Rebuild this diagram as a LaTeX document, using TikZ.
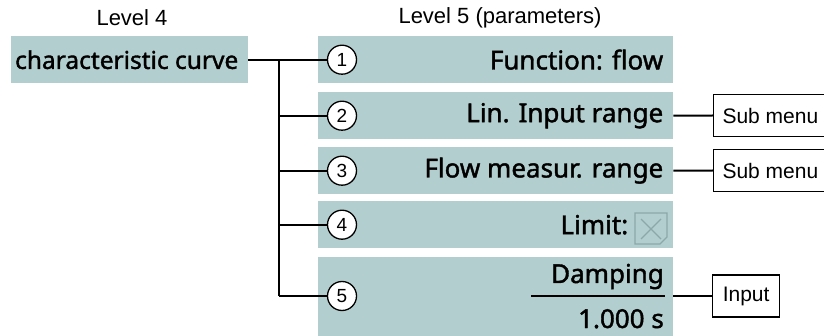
\documentclass[tikz,border=0pt]{standalone}
\usepackage{fontspec}
\setmainfont{Liberation Sans}
\newfontfamily\parfont{Noto Sans}[FakeBold=1.5]
\usetikzlibrary{positioning}

\definecolor{parfill}{HTML}{B2CECE}
\definecolor{chkgrey}{HTML}{8CA8A8}

\tikzset{
  parbox/.style={fill=parfill, minimum width=355pt, minimum height=47pt, inner sep=0pt, anchor=north west},
  partext/.style={font=\parfont\fontsize{26}{30}\selectfont, inner sep=0pt, anchor=east},
  numcirc/.style={circle, draw, line width=1.3pt, fill=white, minimum size=29pt, inner sep=0pt, font=\fontsize{19}{19}\selectfont},
  menubox/.style={draw, line width=1.2pt, minimum height=42pt, inner sep=0pt, anchor=west, font=\fontsize{21}{21}\selectfont},
  lvltext/.style={font=\fontsize{22}{22}\selectfont},
  conn/.style={line width=2pt}
}

\begin{document}
\begin{tikzpicture}[x=1pt, y=-1pt]
\useasboundingbox (0,0) rectangle (824,336);
\clip (0,0) rectangle (824,336);

% headings
\node (lvl4) [lvltext] at (132,18) {Level 4};
\node (lvl5) [lvltext] at (500,18) {Level 5 (parameters)};

% level 4
\node (cc) [parbox, minimum width=237pt] at (11,36) {};
\node [partext, anchor=center, font=\parfont\fontsize{24.5}{28}\selectfont] at ([xshift=-3pt]cc.center) {characteristic curve};

% level 5 boxes
\node (p1) [parbox] at (318,36) {};
\node (p2) [parbox] at (318,92) {};
\node (p3) [parbox] at (318,147) {};
\node (p4) [parbox] at (318,201) {};
\node (p5) [parbox, minimum height=80pt] at (318,257) {};

\node (c1) [numcirc] at ([xshift=24pt]p1.west) {1};
\node (c2) [numcirc] at ([xshift=24pt]p2.west) {2};
\node (c3) [numcirc] at ([xshift=24pt]p3.west) {3};
\node (c4) [numcirc] at ([xshift=24pt]p4.west) {4};
\node (c5) [numcirc] at (342,296) {5};

\node (t1) [partext] at ([xshift=-10pt]p1.east) {Function: flow};
\node (t2) [partext] at ([xshift=-10pt]p2.east) {Lin. Input range};
\node (t3) [partext] at ([xshift=-10pt]p3.east) {Flow measur. range};
\node (t4) [partext] at ([xshift=-45pt]p4.east) {Limit:};
\node (t5a) [partext, anchor=base east] at (664,283) {Damping};
\node (t5b) [partext, anchor=base east] at (664,328) {1.000 s};
\draw[line width=1.5pt] (531,296) -- (665,296);

% checkbox
\draw[chkgrey, line width=1.2pt] (635,213) -- (667,213) -- (667,237) -- (660,244) -- (635,244) -- cycle;
\draw[chkgrey, line width=1.2pt] (641,219) -- (661,239) (661,219) -- (641,239);

% sub menus
\node (s2) [menubox, minimum width=120pt] at (713,115.5) {};
\node [font=\fontsize{21}{21}\selectfont, anchor=west] at ([xshift=6pt]s2.west) {Sub menu};
\node (s3) [menubox, minimum width=120pt] at (713,170.5) {};
\node [font=\fontsize{21}{21}\selectfont, anchor=west] at ([xshift=6pt]s3.west) {Sub menu};
\node (in5) [menubox, minimum width=67pt] at (712,296) {Input};

% connectors
\coordinate (jn) at (279,60);
\coordinate (jb) at (279,296);
\draw[conn] (cc.east) -- (c1.west);
\draw[conn] (jn) -- (jb);
\draw[conn] (jn |- c2) -- (c2.west);
\draw[conn] (jn |- c3) -- (c3.west);
\draw[conn] (jn |- c4) -- (c4.west);
\draw[conn] (jb) -- (c5.west);
\draw[conn] (p2.east) -- (s2.west);
\draw[conn] (p3.east) -- (s3.west);
\draw[conn] (p5.east |- in5) -- (in5.west);
\end{tikzpicture}
\end{document}
